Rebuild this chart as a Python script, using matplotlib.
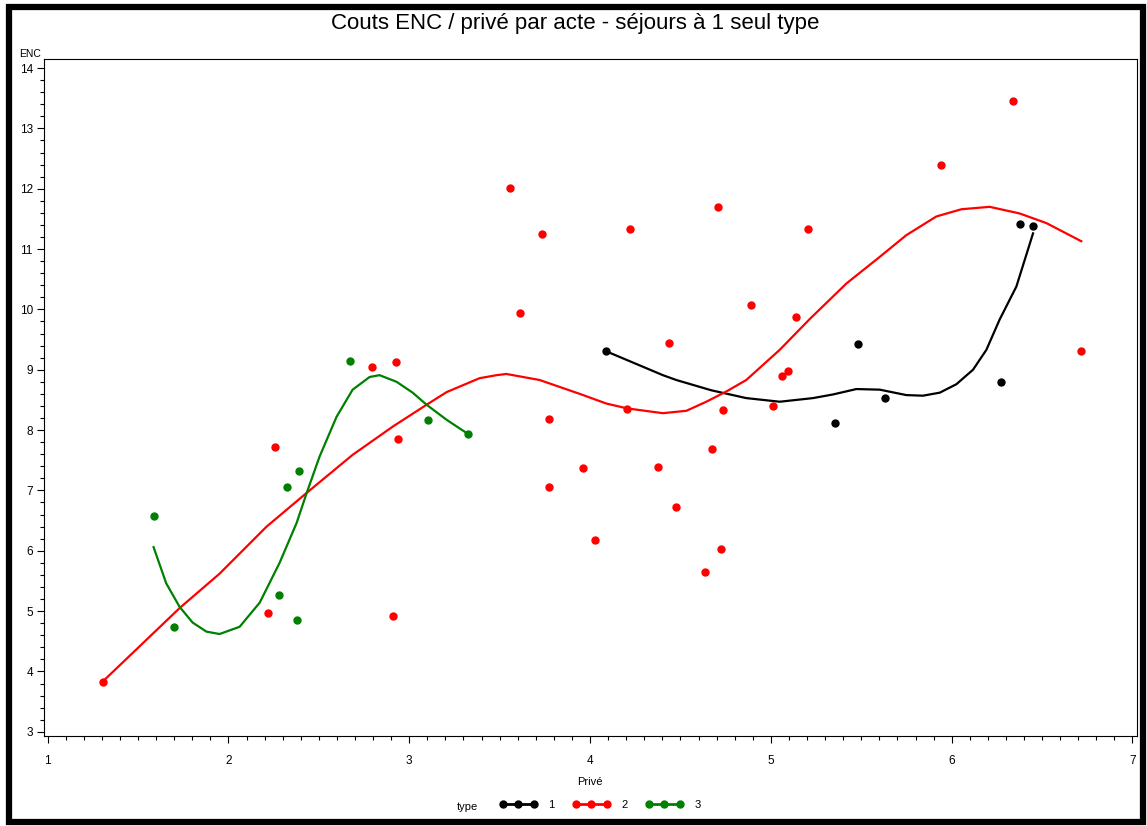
import matplotlib
matplotlib.use("Agg")
import matplotlib.pyplot as plt
from matplotlib.lines import Line2D
from matplotlib.patches import Rectangle
from matplotlib.ticker import MultipleLocator

plt.rcParams['font.family'] = ['Liberation Sans', 'DejaVu Sans']

# type 1 points and smoothed curve
x1 = [4.086, 5.357, 5.484, 5.631, 6.273, 6.380, 6.450]
y1 = [9.31, 8.11, 9.42, 8.54, 8.79, 11.42, 11.38]
cx1 = [4.086, 4.403, 4.477, 4.67, 4.864, 5.049, 5.233, 5.343, 5.473, 5.602,
       5.749, 5.841, 5.934, 6.026, 6.118, 6.192, 6.265, 6.358, 6.450]
cy1 = [9.31, 8.91, 8.83, 8.66, 8.53, 8.47, 8.53, 8.59, 8.68, 8.67,
       8.58, 8.57, 8.62, 8.76, 9.00, 9.33, 9.83, 10.38, 11.26]

# type 2
x2 = [1.304, 2.256, 2.217, 2.792, 2.925, 2.936, 2.908, 3.555, 3.734, 3.612,
      3.771, 3.773, 3.959, 4.027, 4.219, 4.204, 4.439, 4.378, 4.477, 4.673,
      4.638, 4.707, 4.733, 4.722, 4.888, 5.012, 5.060, 5.093, 5.141, 5.207,
      5.939, 6.339, 6.713]
y2 = [3.83, 7.72, 4.97, 9.05, 9.13, 7.85, 4.92, 12.02, 11.25, 9.94,
      8.18, 7.05, 7.37, 6.18, 11.34, 8.35, 9.45, 7.39, 6.72, 7.69,
      5.64, 11.70, 8.33, 6.03, 10.08, 8.40, 8.89, 8.98, 9.87, 11.34,
      12.40, 13.45, 9.31]
cx2 = [1.304, 1.730, 1.951, 2.211, 2.433, 2.687, 2.910, 3.096, 3.207, 3.389,
       3.483, 3.537, 3.721, 3.943, 4.090, 4.204, 4.403, 4.533, 4.643, 4.754,
       4.864, 5.049, 5.215, 5.418, 5.602, 5.749, 5.915, 6.054, 6.210, 6.376,
       6.524, 6.717]
cy2 = [3.83, 5.05, 5.62, 6.40, 6.96, 7.59, 8.06, 8.42, 8.63, 8.86,
       8.91, 8.93, 8.83, 8.60, 8.44, 8.36, 8.28, 8.32, 8.47, 8.64,
       8.83, 9.33, 9.84, 10.43, 10.87, 11.23, 11.54, 11.66, 11.70, 11.59,
       11.43, 11.13]

# type 3
x3 = [1.586, 1.697, 2.278, 2.322, 2.388, 2.377, 2.670, 3.102, 3.323]
y3 = [6.58, 4.74, 5.27, 7.05, 7.33, 4.85, 9.15, 8.17, 7.94]
cx3 = [1.586, 1.656, 1.730, 1.802, 1.878, 1.951, 2.062, 2.173, 2.283, 2.377,
       2.433, 2.504, 2.598, 2.687, 2.781, 2.836, 2.930, 3.019, 3.096, 3.207, 3.318]
cy3 = [6.06, 5.46, 5.07, 4.81, 4.66, 4.62, 4.74, 5.14, 5.80, 6.46,
       6.96, 7.56, 8.22, 8.67, 8.88, 8.91, 8.80, 8.62, 8.42, 8.17, 7.95]

types = ['1', '2', '3']
colors = ['black', '#ff0000', '#008000']

fig = plt.figure(figsize=(11.47, 8.26), dpi=100)
ax = fig.add_axes([44/1147, 1 - 736/826, (1137 - 44)/1147, (736 - 59)/826])

series = [(x1, y1, cx1, cy1), (x2, y2, cx2, cy2), (x3, y3, cx3, cy3)]
for (px, py, lx, ly), col in zip(series, colors):
    ax.plot(lx, ly, color=col, lw=1.6, zorder=2, solid_joinstyle='round')
    ax.plot(px, py, 'o', color=col, ms=5, mec=col, zorder=3)

ax.set_xlim(0.98, 7.025)
ax.set_ylim(2.93, 14.15)
ax.xaxis.set_major_locator(MultipleLocator(1))
ax.xaxis.set_minor_locator(MultipleLocator(0.1))
ax.yaxis.set_major_locator(MultipleLocator(1))
ax.yaxis.set_minor_locator(MultipleLocator(0.2))
ax.tick_params(which='major', length=5, width=0.8, labelsize=8.5)
ax.tick_params(which='minor', length=3, width=0.8)
ax.tick_params(axis='x', which='major', pad=9)
ax.tick_params(axis='y', which='major', pad=3)
for s in ax.spines.values():
    s.set_linewidth(0.8)

ax.text(-0.003, 1.0, 'ENC', transform=ax.transAxes, ha='right', va='bottom',
        fontsize=7.5)
fig.text(590/1147, 1 - 782/826, 'Privé', ha='center', va='center', fontsize=8)
fig.text(575/1147, 1 - 23/826, 'Couts ENC / privé par acte - séjours à 1 seul type',
         ha='center', va='center', fontsize=16)

# legend row
fig.text(467/1147, 1 - 807/826, 'type', ha='center', va='center', fontsize=8)
handles = [Line2D([], [], color=c, lw=2, marker='o', ms=5) for c in colors]
fig.legend(handles, types, ncol=3, numpoints=3, frameon=False, fontsize=8,
           loc='center', bbox_to_anchor=(600/1147, 1 - 805/826),
           handlelength=3.4, handletextpad=1.0, columnspacing=1.6)

# black frame around the whole page
fig.patches.append(Rectangle((9/1147, 4/826), (1143 - 9)/1147, (822 - 7)/826,
                             transform=fig.transFigure, fill=False,
                             edgecolor='black', linewidth=4.5))

fig.savefig('out.png', dpi=100)
